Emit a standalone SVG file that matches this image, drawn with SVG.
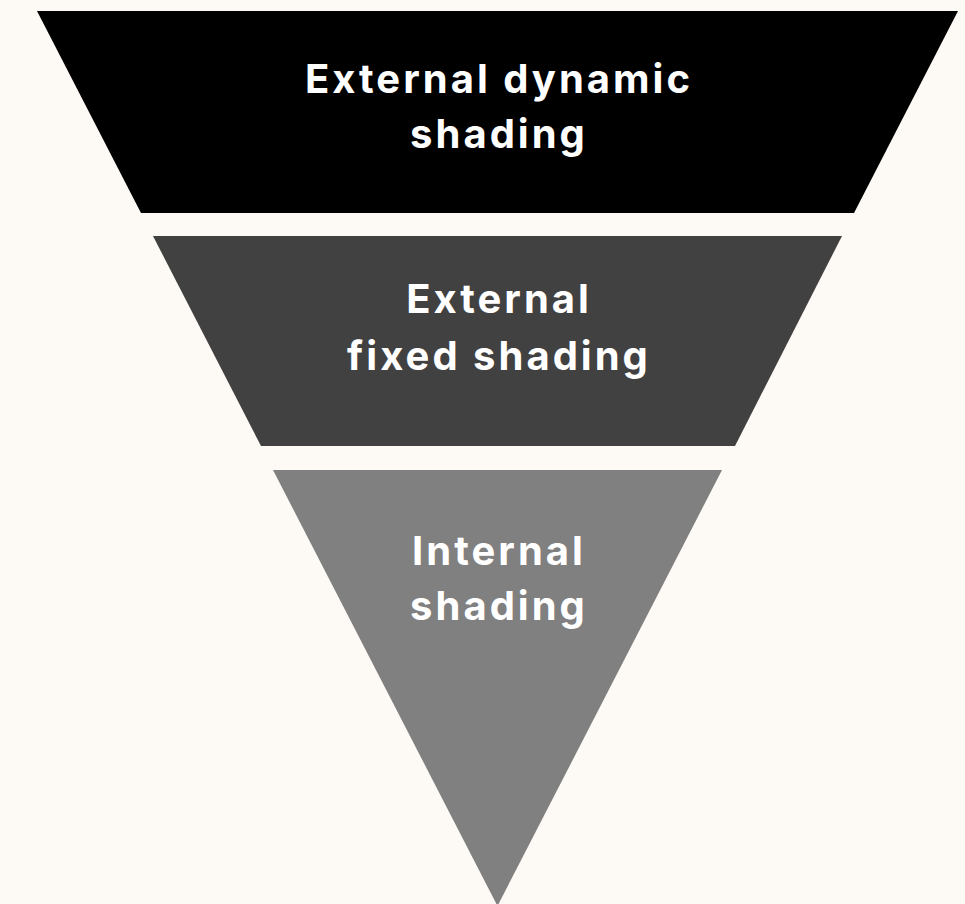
<svg xmlns="http://www.w3.org/2000/svg" width="965" height="904" viewBox="0 0 965 904">
<style>
.lbl{font-family:Inter,"Liberation Sans",sans-serif;font-weight:700;font-size:40px;letter-spacing:3px;fill:#ffffff;text-anchor:middle}
</style>
<rect width="965" height="904" fill="#fdfaf5"/>
<g id="external-dynamic">
<polygon points="37,11 958,11 854,213 141,213" fill="#000000"/>
<text class="lbl" x="499" y="93">External dynamic</text>
<text class="lbl" x="499" y="148">shading</text>
</g>
<g id="external-fixed">
<polygon points="153,236 842,236 735,446 261,446" fill="#414141"/>
<text class="lbl" x="499" y="313">External</text>
<text class="lbl" x="499" y="370">fixed shading</text>
</g>
<g id="internal">
<polygon points="273,470 722,470 497.5,906" fill="#808080"/>
<text class="lbl" x="499" y="565">Internal</text>
<text class="lbl" x="499" y="620">shading</text>
</g>
<g id="connectors"/>
</svg>
